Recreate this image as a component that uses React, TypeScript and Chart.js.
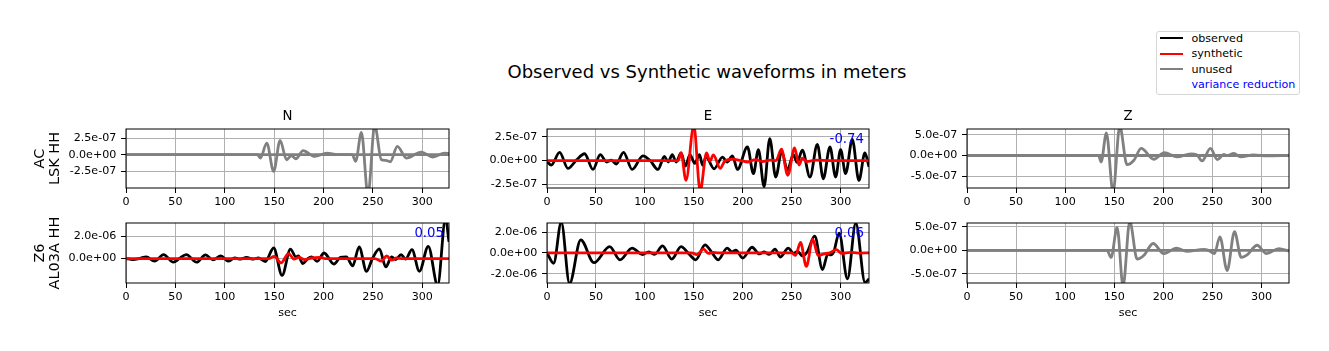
import React, { useEffect, useRef } from 'react';
import { Chart, registerables } from 'chart.js';

Chart.register(...registerables);

type Pt = [number, number];

// ---------- data (time in sec, displacement in meters) ----------
const X_TICKS = [0, 50, 100, 150, 200, 250, 300];

const Y_TICKS_N1 = [-2.5e-7, 0, 2.5e-7];
const Y_TICKS_E1 = [-2.5e-7, 0, 2.5e-7];
const Y_TICKS_Z1 = [-5e-7, 0, 5e-7];
const Y_TICKS_N2 = [0, 2e-6];
const Y_TICKS_E2 = [-2e-6, 0, 2e-6];
const Y_TICKS_Z2 = [-5e-7, 0, 5e-7];

const COMPONENTS = ['N', 'E', 'Z'];
const STATION_1 = ['AC', 'LSK HH'];
const STATION_2 = ['Z6', 'AL03A HH'];
const VR_E1 = '-0.74';
const VR_N2 = '0.05';
const VR_E2 = '0.06';

const LEGEND_LABELS = ['observed', 'synthetic', 'unused', 'variance reduction'];

// AC.LSK  N  (unused)
const N1_OBS: Pt[] = [
  [0, 0], [133, 0], [136, -5e-8], [142.5, 1.75e-7], [149.5, -2.5e-7], [156, 2.15e-7],
  [162.5, -7.5e-8], [167.5, -1.5e-8], [172, -6e-8], [179.3, 6e-8], [191, -2.5e-8],
  [203.5, 2.5e-8], [214, 0], [229, 0], [232.5, -1e-7], [238.3, 3.35e-7], [245, -6e-7],
  [251.8, 4.4e-7], [258.5, -7.5e-8], [263, -8.5e-8], [267.5, -1.05e-7], [274.7, 1.25e-7],
  [283.8, -5e-8], [299, 4e-8], [310.8, -3.5e-8], [322.5, 2.5e-8], [327, 1.5e-8],
];
const N1_SYN: Pt[] = [[0, 0], [327, 0]];

// AC.LSK  E
const E1_OBS: Pt[] = [
  [0, -1e-8], [4.4, -4.7e-8], [12.9, 8.7e-8], [21.4, -8.3e-8], [30, 5e-9], [38.4, 7.2e-8],
  [47, -9.4e-8], [54.4, 6.2e-8], [61, -1.5e-8], [65.6, 5e-9], [70.7, -3.6e-8], [78.2, 8.7e-8],
  [87, -9.4e-8], [98, 5e-8], [105.4, 0], [113.3, -9.4e-8], [120, 4.3e-8], [123.8, -1.5e-8],
  [128, 6.2e-8], [132, -1.5e-8], [137, 8e-8], [141.5, -5.8e-8], [146, 6.2e-8], [151, -2.9e-8],
  [155.8, 6.2e-8], [159, -5e-8], [162.5, 4e-8], [170.7, -8.7e-8], [179.3, 3.6e-8], [184, -1.5e-8],
  [189.5, 5e-8], [194.6, -9.4e-8], [204.8, 1.45e-7], [210.9, -1.38e-7], [216, 1.16e-7],
  [221.8, -2.75e-7], [227.6, 2.32e-7], [233.7, -1.74e-7], [239.8, 9.8e-8], [245.6, -1.0e-7],
  [251.7, 6.2e-8], [255.5, -2e-8], [260.9, 1.09e-7], [268.7, -1.74e-7], [276.2, 1.7e-7],
  [282.3, -1.92e-7], [289.1, 1.45e-7], [294.9, -1.74e-7], [300, 1.16e-7], [305.1, -1.38e-7],
  [311.9, 2.24e-7], [318.7, -2.1e-7], [324.8, 8e-8], [329, -6.5e-8],
];
const E1_SYN: Pt[] = [
  [0, 0], [134, 0], [137, 8e-8], [142, -2.1e-7], [150, 3.7e-7], [156.5, -3.2e-7], [163, 8e-8],
  [166.5, -5e-9], [170, 6e-8], [177, -8.3e-8], [181, -1.5e-8], [185, 1e-8], [190, 1.5e-8],
  [198, 0], [205, -1.5e-8], [213, 1e-8], [220, -1e-8], [228, 5e-9], [234, 0], [239.5, 1.2e-7],
  [246, -1.55e-7], [253, 1.34e-7], [257.5, -4.7e-8], [261, 2.5e-8], [265, -1e-8], [275, 5e-9],
  [290, 0], [329, 0],
];

// AC.LSK  Z  (unused)
const Z1_OBS: Pt[] = [
  [0, 0], [134, 0], [136.6, -1.56e-7], [142, 5.4e-7], [148.8, -8.8e-7], [155.6, 7e-7],
  [163, -2.2e-7], [170, -1.15e-7], [177.4, 1.7e-7], [190.3, -9e-8], [201, 6.6e-8],
  [214, -3.3e-8], [228, 4e-8], [234, 2e-8], [239.5, -1.3e-7], [248, 1.7e-7], [255, -1e-7],
  [261.6, 2.5e-8], [265, 0], [271.8, 5e-8], [278.6, -3.3e-8], [292, 1.6e-8], [305, -1e-8], [328, 0],
];
const Z1_SYN: Pt[] = [[0, 0], [328, 0]];

// Z6.AL03A  N
const N2_OBS: Pt[] = [
  [0, 0], [7, -9e-8], [14, 2e-8], [20.5, 1.5e-7], [29, -2.4e-7], [38, 3.6e-7], [48, -3.3e-7],
  [54, 0], [61, 3.6e-7], [71.5, -3.3e-7], [80.5, 3.3e-7], [88, -1.2e-7], [96, 2.4e-7],
  [103.5, -2.4e-7], [110, 6e-8], [116, -6e-8], [122, 1e-7], [129, -6e-8], [134, 6e-8],
  [141, -2.7e-7], [149.5, 9.5e-7], [158, -1.52e-6], [166.5, 8.5e-7], [172, 1.5e-7],
  [174.5, 2.5e-7], [179, -4.5e-7], [184, -1e-8], [188, 1.5e-7], [193.5, -2.5e-7],
  [200.5, 5e-7], [210.5, -5e-7], [217, 1e-7], [223, 1.5e-7], [229.5, -6.5e-7], [236, 1.05e-6],
  [243.5, -1.15e-6], [249.5, 0], [256.5, 8.7e-7], [263, -7.5e-7], [269, 1.5e-7], [273, -1e-7],
  [278.5, 3.6e-7], [283, -5e-8], [289.5, 8e-7], [297, -1.15e-6], [306, 1.1e-6],
  [315.5, -2.4e-6], [323.5, 3.6e-6], [327, 1.5e-6],
];
const N2_SYN: Pt[] = [
  [0, 0], [145, 0], [150, 2e-7], [157, -3.9e-7], [164.5, 4.5e-7], [170, -5e-8], [175, 1e-7],
  [181, -1e-7], [188, 5e-8], [196, 1e-7], [202, 0], [252, 0], [258.5, -2.4e-7], [264, 2.4e-7],
  [269, -1.5e-7], [274, 5e-8], [280, 0], [327, 0],
];

// Z6.AL03A  E
const E2_OBS: Pt[] = [
  [0, 0], [6.8, -1e-6], [14.6, 2.95e-6], [23, -2.95e-6], [34.5, 1.25e-6], [48, -9.5e-7],
  [64, 6e-7], [74.5, -6.7e-7], [87, 4.5e-7], [97.5, -1.6e-7], [104, 1e-7], [110, -1.5e-7],
  [118, 6.7e-7], [127.5, -6e-7], [137, 6e-7], [145, -1e-7], [152, -6.7e-7], [161.5, 7.7e-7],
  [168, 1e-7], [175, -6.7e-7], [184, 4.5e-7], [189, 1e-7], [193, 2.5e-7], [200, -5e-7],
  [209.5, 5.4e-7], [217, -1e-7], [222, 1e-7], [227, -1.5e-7], [233, 3.5e-7], [238.5, -4e-7],
  [246.5, 4.5e-7], [252, -5e-8], [256, 1.5e-7], [261, -3e-7], [266, 1e-7], [273.5, 1.6e-6],
  [281.5, -1.6e-6], [287, -1e-7], [290, -2e-7], [293, 1e-7], [298.5, 1.9e-6], [307, -2.5e-6],
  [315.5, 2.85e-6], [325, -2.85e-6], [329, -2.5e-6],
];
const E2_SYN: Pt[] = [
  [0, 0], [148, 0], [153, -1.8e-7], [160, 3.5e-7], [165, -5e-8], [170, 5e-8], [175, 0],
  [250, 0], [254, -2.5e-7], [259, 1e-6], [265, -1.3e-6], [271.5, 1.3e-6], [277, -2.5e-7],
  [283, -1e-7], [289, 0], [295.5, 3e-7], [301, -5e-8], [310, 5e-8], [318, -3e-8], [329, 0],
];

// Z6.AL03A  Z  (unused)
const Z2_OBS: Pt[] = [
  [0, 0], [142.7, 0], [146.8, -1.5e-7], [152.9, 4.9e-7], [159, -7.6e-7], [165.8, 6.2e-7],
  [173.3, -1.85e-7], [180, -1.1e-7], [189.6, 1.47e-7], [200.5, -7e-8], [213.4, 5e-8],
  [224, -2e-8], [241, 2e-8], [246, 0], [252, -7e-8], [257.6, 2.9e-7], [265, -4.3e-7],
  [272.5, 4e-7], [279.3, -1.5e-7], [285, -1e-7], [295.6, 1.1e-7], [305, -7e-8],
  [317.7, 3.7e-8], [328, -1.5e-8],
];
const Z2_SYN: Pt[] = [[0, 0], [328, 0]];

// ---------- styling / layout ----------
const FONT = '"DejaVu Sans", "Liberation Sans", sans-serif';
const BLACK = '#000000';
const RED = '#ff0000';
const GRAY = '#808080';
const BLUE = '#0000ff';

const ML = 110;
const MR = 10;
const MT = 30;
const MB = 45;

interface Series { data: Pt[]; color: string; order: number }
interface PanelCfg {
  left: number; top: number; w: number; h: number;
  xMax: number; yMin: number; yMax: number; yTicks: number[];
  series: Series[];
  title?: string; ylabel?: string[]; xlabel?: string; vr?: string;
}

const PANELS: PanelCfg[] = [
  {
    left: 126, top: 129, w: 323, h: 59, xMax: 327, yMin: -4.98e-7, yMax: 3.85e-7, yTicks: Y_TICKS_N1,
    series: [{ data: N1_SYN, color: GRAY, order: 0 }, { data: N1_OBS, color: GRAY, order: 1 }],
    title: COMPONENTS[0], ylabel: STATION_1,
  },
  {
    left: 547, top: 129, w: 322, h: 59, xMax: 329, yMin: -2.9e-7, yMax: 3.34e-7, yTicks: Y_TICKS_E1,
    series: [{ data: E1_SYN, color: RED, order: 0 }, { data: E1_OBS, color: BLACK, order: 1 }],
    title: COMPONENTS[1], vr: VR_E1,
  },
  {
    left: 967, top: 129, w: 322, h: 59, xMax: 328, yMin: -7.8e-7, yMax: 6.36e-7, yTicks: Y_TICKS_Z1,
    series: [{ data: Z1_SYN, color: GRAY, order: 0 }, { data: Z1_OBS, color: GRAY, order: 1 }],
    title: COMPONENTS[2],
  },
  {
    left: 126, top: 223, w: 323, h: 60, xMax: 327, yMin: -2.2e-6, yMax: 3.2e-6, yTicks: Y_TICKS_N2,
    series: [{ data: N2_SYN, color: RED, order: 0 }, { data: N2_OBS, color: BLACK, order: 1 }],
    ylabel: STATION_2, xlabel: 'sec', vr: VR_N2,
  },
  {
    left: 547, top: 223, w: 322, h: 60, xMax: 329, yMin: -2.9e-6, yMax: 2.87e-6, yTicks: Y_TICKS_E2,
    series: [{ data: E2_SYN, color: RED, order: 0 }, { data: E2_OBS, color: BLACK, order: 1 }],
    xlabel: 'sec', vr: VR_E2,
  },
  {
    left: 967, top: 223, w: 322, h: 60, xMax: 328, yMin: -6.96e-7, yMax: 5.85e-7, yTicks: Y_TICKS_Z2,
    series: [{ data: Z2_SYN, color: GRAY, order: 0 }, { data: Z2_OBS, color: GRAY, order: 1 }],
    xlabel: 'sec',
  },
];

function fmtSci(v: number): string {
  if (v === 0) return '0.0e+00';
  return v.toExponential(1).replace(/e([+-])(\d)$/, 'e$10$2');
}

function annotPlugin(cfg: PanelCfg) {
  return {
    id: 'annot',
    afterDatasetsDraw(chart: any) {
      const { ctx, chartArea: a } = chart;
      ctx.save();
      ctx.strokeStyle = '#000';
      ctx.lineWidth = 1;
      ctx.strokeRect(a.left, a.top, a.right - a.left, a.bottom - a.top);
      ctx.fillStyle = '#000';
      ctx.textBaseline = 'alphabetic';
      if (cfg.title) {
        ctx.font = `13.3px ${FONT}`;
        ctx.textAlign = 'center';
        ctx.fillText(cfg.title, (a.left + a.right) / 2, a.top - 8.6);
      }
      if (cfg.xlabel) {
        ctx.font = `11.1px ${FONT}`;
        ctx.textAlign = 'center';
        ctx.fillText(cfg.xlabel, (a.left + a.right) / 2, a.bottom + 32.8);
      }
      if (cfg.ylabel) {
        ctx.font = `14.5px ${FONT}`;
        ctx.textAlign = 'center';
        const cy = (a.top + a.bottom) / 2;
        cfg.ylabel.forEach((line, i) => {
          ctx.save();
          ctx.translate(a.left - 82 + i * 14.5, cy);
          ctx.rotate(-Math.PI / 2);
          ctx.fillText(line, 0, 0);
          ctx.restore();
        });
      }
      if (cfg.vr) {
        ctx.font = `13.3px ${FONT}`;
        ctx.fillStyle = BLUE;
        ctx.textAlign = 'right';
        ctx.fillText(cfg.vr, a.right - 5, a.top + 14);
      }
      ctx.restore();
    },
  };
}

function Panel({ cfg }: { cfg: PanelCfg }) {
  const ref = useRef<HTMLCanvasElement>(null);
  const cw = ML + cfg.w + MR;
  const ch = MT + cfg.h + MB;
  useEffect(() => {
    const canvas = ref.current;
    if (!canvas) return;
    const tickFont = { family: FONT, size: 11.1 };
    const grid = { color: '#b0b0b0', lineWidth: 1, tickColor: '#000', tickLength: 5, tickWidth: 1 };
    const chart = new Chart(canvas, {
      type: 'line',
      data: {
        datasets: cfg.series.map((s) => ({
          data: s.data.map(([x, y]) => ({ x, y })),
          borderColor: s.color,
          backgroundColor: s.color,
          borderWidth: 2.8,
          pointRadius: 0,
          pointHoverRadius: 0,
          cubicInterpolationMode: 'monotone' as const,
          fill: false,
          clip: 0,
          order: s.order,
        })),
      },
      options: {
        animation: false,
        responsive: false,
        devicePixelRatio: 1,
        events: [],
        layout: { padding: { left: 0, right: MR, top: MT, bottom: 0 } },
        plugins: { legend: { display: false }, tooltip: { enabled: false }, title: { display: false } },
        scales: {
          x: {
            type: 'linear',
            bounds: 'data',
            min: 0,
            max: cfg.xMax,
            afterBuildTicks: (s: any) => { s.ticks = X_TICKS.map((v) => ({ value: v })); },
            afterFit: (s: any) => { s.height = MB; },
            ticks: {
              autoSkip: false, maxRotation: 0, minRotation: 0, padding: 2, color: '#000',
              font: tickFont, callback: (v: any) => String(v),
            },
            grid,
            border: { display: false },
          },
          y: {
            type: 'linear',
            bounds: 'data',
            min: cfg.yMin,
            max: cfg.yMax,
            afterBuildTicks: (s: any) => { s.ticks = cfg.yTicks.map((v) => ({ value: v })); },
            afterFit: (s: any) => { s.width = ML; },
            ticks: {
              autoSkip: false, padding: 4.7, color: '#000', font: tickFont,
              callback: (v: any) => fmtSci(Number(v)),
            },
            grid,
            border: { display: false },
          },
        },
      } as any,
      plugins: [annotPlugin(cfg)],
    });
    return () => chart.destroy();
  }, [cfg]);
  return (
    <canvas
      ref={ref}
      width={cw}
      height={ch}
      style={{ position: 'absolute', left: cfg.left - ML, top: cfg.top - MT, width: cw, height: ch }}
    />
  );
}

const LEGEND_COLORS = [BLACK, RED, GRAY, null];
const LEGEND_TEXT_COLORS = ['#000', '#000', '#000', BLUE];
const LEGEND_BASELINES = [42.5, 57.8, 73.1, 88.4];

export default function App() {
  return (
    <div
      style={{
        position: 'absolute', left: 0, top: 0, width: 1329, height: 351,
        background: '#fff', overflow: 'hidden', fontFamily: FONT,
      }}
    >
      <div
        style={{
          position: 'absolute', left: 307, top: 63.3, width: 800, textAlign: 'center',
          fontSize: 18, lineHeight: 1, whiteSpace: 'nowrap', color: '#000',
        }}
      >
        Observed vs Synthetic waveforms in meters
      </div>
      {PANELS.map((p, i) => <Panel key={i} cfg={p} />)}
      <div
        style={{
          position: 'absolute', left: 1156, top: 30.5, width: 144, height: 64.5,
          border: '1px solid #d6d6d6', borderRadius: 3, boxSizing: 'border-box', background: '#fff',
        }}
      />
      {LEGEND_LABELS.map((lab, i) => (
        <React.Fragment key={lab}>
          {LEGEND_COLORS[i] && (
            <div
              style={{
                position: 'absolute', left: 1160.4, width: 22.2, top: LEGEND_BASELINES[i] - 5.1,
                height: 2, background: LEGEND_COLORS[i] as string,
              }}
            />
          )}
          <span
            style={{
              position: 'absolute', left: 1191.5, top: LEGEND_BASELINES[i] - 9.39,
              fontSize: 11.1, lineHeight: 1, whiteSpace: 'nowrap', color: LEGEND_TEXT_COLORS[i],
            }}
          >
            {lab}
          </span>
        </React.Fragment>
      ))}
    </div>
  );
}
